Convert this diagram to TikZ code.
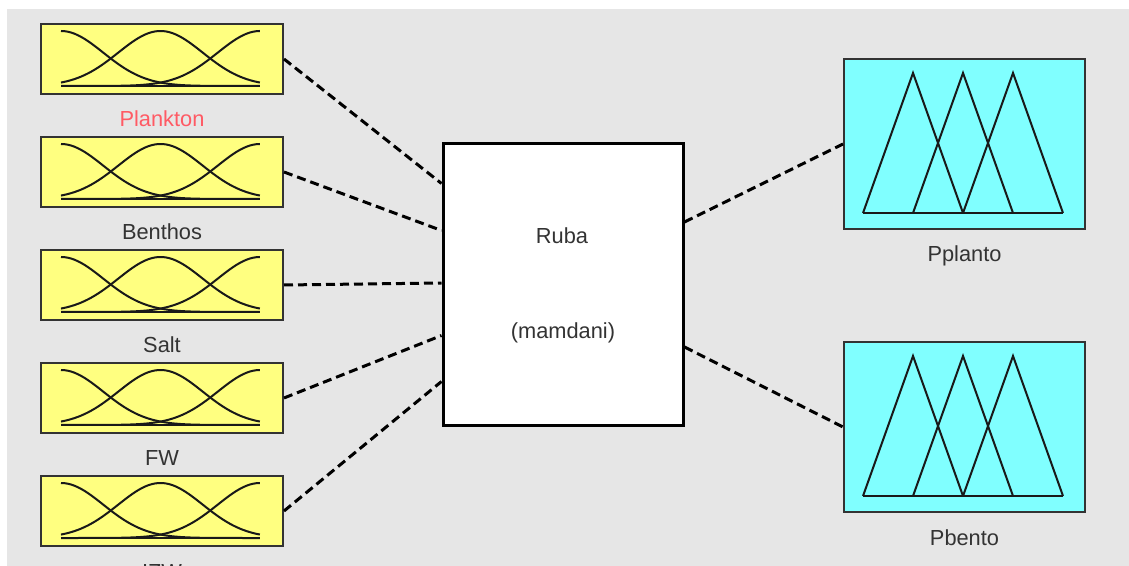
\documentclass[tikz,border=0pt]{standalone}
\usepackage{fontspec}
\setmainfont{Liberation Sans}
\usetikzlibrary{calc}
\definecolor{bgc}{HTML}{E6E6E6}
\definecolor{yel}{HTML}{FFFF80}
\definecolor{cya}{HTML}{80FFFF}
\definecolor{lab}{HTML}{333333}
\definecolor{plk}{HTML}{FF5A64}
\begin{document}
\begin{tikzpicture}[x=0.5pt,y=-0.5pt,
  inbox/.style={draw=black!80, line width=1pt, fill=yel, minimum width=121pt, minimum height=35pt, inner sep=0pt},
  outbox/.style={draw=black!80, line width=1pt, fill=cya, minimum width=120.5pt, minimum height=85pt, inner sep=0pt},
  rulebox/.style={draw=black, line width=1.5pt, fill=white, minimum width=120pt, minimum height=140.5pt, inner sep=0pt},
  conn/.style={line width=1.5pt, dash pattern=on 4.5pt off 2.5pt},
  mf/.style={line width=1pt, draw=black!90},
  lbl/.style={anchor=base, inner sep=0pt, font=\fontsize{10.9}{13}\selectfont}]
\useasboundingbox (0,0) rectangle (1129,566);
\clip (0,0) rectangle (1129,566);
\fill[white] (0,0) rectangle (1129,566);
\fill[bgc] (7,9) rectangle (1129,566);

% input boxes
\foreach \i/\nm/\col in {1/Plankton/plk,2/Benthos/lab,3/Salt/lab,4/FW/lab,5/IZW/lab}{
  \node[inbox] (in\i) at (162,{59+113*(\i-1)}) {};
  \begin{scope}[shift={(in\i.center)}]
    \draw[mf] plot[domain=0:1,samples=60] ({-101+199*\x},{27-55*exp(-(\x*\x)/0.09014)});
    \draw[mf] plot[domain=0:1,samples=60] ({-101+199*\x},{27-55*exp(-((\x-0.5)*(\x-0.5))/0.09014)});
    \draw[mf] plot[domain=0:1,samples=60] ({-101+199*\x},{27-55*exp(-((\x-1)*(\x-1))/0.09014)});
    \draw[mf] (-101,27) -- (98,27);
  \end{scope}
  \node[lbl, text=\col] (l\i) at ($(in\i.south)+(0,32)$) {\nm};
}

% rule box
\node[rulebox] (rule) at (563,284.5) {};
\node[lbl, text=lab] (rname) at (562,244) {Ruba};
\node[lbl, text=lab] (rtype) at (563,339) {(mamdani)};

% output boxes
\foreach \j/\nm/\cy in {1/Pplanto/144,2/Pbento/427}{
  \node[outbox] (out\j) at (964.5,\cy) {};
  \begin{scope}[shift={(out\j.center)}]
    \draw[mf, line join=miter] (-101.5,69) -- (-51.5,-71) -- (-1.5,69);
    \draw[mf, line join=miter] (-51.5,69) -- (-1.5,-71) -- (48.5,69);
    \draw[mf, line join=miter] (-1.5,69) -- (48.5,-71) -- (98.5,69);
    \draw[mf] (-101.5,69) -- (98.5,69);
  \end{scope}
  \node[lbl, text=lab] (o\j) at ($(out\j.south)+(0,32)$) {\nm};
}

% connectors
\draw[conn] (in1.east) -- ($(rule.north west)+(0,41)$);
\draw[conn] (in2.east) -- ($(rule.north west)+(0,88)$);
\draw[conn] (in3.east) -- ($(rule.north west)+(0,140.5)$);
\draw[conn] (in4.east) -- ($(rule.north west)+(0,193)$);
\draw[conn] (in5.east) -- ($(rule.north west)+(0,239)$);
\draw[conn] ($(rule.east)+(0,-62.5)$) -- (out1.west);
\draw[conn] ($(rule.east)+(0,62.5)$) -- (out2.west);
\end{tikzpicture}
\end{document}
